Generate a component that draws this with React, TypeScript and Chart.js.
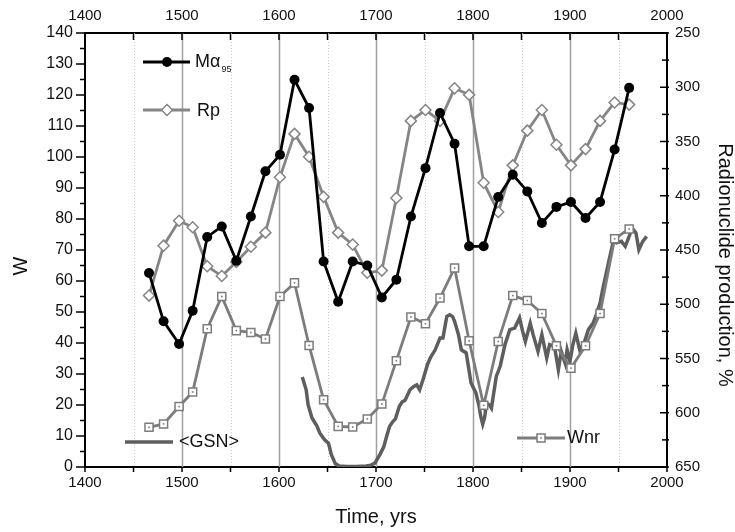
import React, { useEffect, useRef } from 'react';
import { Chart, registerables } from 'chart.js';

Chart.register(...registerables);

// ---- Data ----
const years = [
  1466, 1481, 1497, 1511, 1526, 1541, 1556, 1571, 1586, 1601, 1616, 1631,
  1646, 1661, 1676, 1691, 1706, 1721, 1736, 1751, 1766, 1781, 1796, 1811,
  1826, 1841, 1856, 1871, 1886, 1901, 1916, 1931, 1946, 1961,
];

// M alpha95 (left axis, W)
const malpha95 = [
  62.6, 47.0, 39.7, 50.4, 74.2, 77.6, 66.5, 80.8, 95.4, 100.7, 124.9, 115.8,
  66.3, 53.3, 66.3, 65.0, 54.7, 60.4, 80.8, 96.4, 114.2, 104.3, 71.2, 71.2,
  87.1, 94.3, 88.9, 78.7, 83.9, 85.5, 80.3, 85.5, 102.4, 122.3,
];

// Rp (right axis, radionuclide production, %)
const rp = [
  492, 446, 423, 429, 465, 474, 461, 447, 434, 383, 343, 364,
  401, 434, 445, 471, 469, 402, 331, 321, 331, 301, 307, 388,
  415, 372, 340, 321, 353, 372, 357, 331, 314, 316,
];

// Wnr (left axis, W)
const wnr = [
  12.8, 13.9, 19.5, 24.2, 44.6, 55.0, 44.0, 43.4, 41.3, 55.0, 59.4, 39.2,
  21.7, 13.1, 12.9, 15.5, 20.3, 34.3, 48.4, 46.2, 54.5, 64.2, 40.7, 19.9,
  40.5, 55.3, 53.7, 49.5, 39.1, 31.9, 39.1, 49.5, 73.6, 76.8,
];

// <GSN> (left axis, W)
const gsnYears = [
  1624, 1628, 1630, 1634, 1639, 1642, 1647, 1651, 1654, 1658, 1662, 1670,
  1680, 1690, 1695, 1699, 1704, 1708, 1711, 1714, 1717, 1720, 1724, 1727,
  1730, 1735, 1739, 1742, 1745, 1749, 1753, 1756, 1761, 1766, 1769, 1773,
  1776, 1779, 1781, 1785, 1788, 1793, 1798, 1803, 1806, 1808, 1810, 1812,
  1814, 1817, 1819, 1824, 1828, 1833, 1838, 1843, 1848, 1851, 1854, 1859,
  1862, 1867, 1871, 1876, 1879, 1884, 1888, 1891, 1895, 1897, 1900, 1903,
  1906, 1910, 1914, 1919, 1924, 1927, 1931, 1934, 1940, 1945, 1948, 1953,
  1957, 1961, 1964, 1968, 1971, 1975, 1979,
];
const gsn = [
  29.0, 24.9, 20.1, 15.8, 13.3, 11.0, 8.8, 7.7, 4.0, 1.1, 0.3, 0.2,
  0.2, 0.3, 0.6, 1.3, 4.0, 6.5, 9.9, 13.1, 14.5, 15.5, 19.5, 21.0,
  21.5, 24.9, 26.0, 26.5, 24.9, 28.7, 33.0, 35.2, 37.8, 41.6, 41.6, 48.6,
  49.1, 48.5, 47.0, 42.7, 37.8, 36.8, 27.1, 23.9, 20.0, 16.3, 13.8, 16.0,
  20.6, 20.0, 19.0, 29.2, 32.5, 39.5, 44.3, 44.8, 48.1, 44.0, 40.5, 46.4,
  42.7, 37.3, 42.7, 35.2, 39.5, 38.9, 31.4, 37.3, 33.5, 37.8, 34.1, 39.5,
  43.2, 37.8, 39.5, 44.3, 46.5, 49.1, 52.9, 57.7, 66.3, 73.3, 72.3, 72.8,
  71.2, 74.4, 77.1, 75.5, 70.1, 72.8, 74.4,
];

const xMin = 1400;
const xMax = 2000;
const wMin = 0;
const wMax = 140;
const rMin = 250;
const rMax = 650;

const FONT = '"Liberation Sans", Arial, Helvetica, sans-serif';
const TXT = '#111111';
const C_M = '#000000';
const C_RP = '#858585';
const C_WNR = '#7c7c7c';
const C_GSN = '#5e5e5e';

function drawCircle(ctx: CanvasRenderingContext2D, x: number, y: number, r: number) {
  ctx.beginPath();
  ctx.arc(x, y, r, 0, Math.PI * 2);
  ctx.fillStyle = C_M;
  ctx.fill();
}
function drawDiamond(ctx: CanvasRenderingContext2D, x: number, y: number, r: number) {
  ctx.beginPath();
  ctx.moveTo(x, y - r);
  ctx.lineTo(x + r, y);
  ctx.lineTo(x, y + r);
  ctx.lineTo(x - r, y);
  ctx.closePath();
  ctx.fillStyle = '#fff';
  ctx.fill();
  ctx.lineWidth = 1.5;
  ctx.strokeStyle = C_RP;
  ctx.stroke();
}
function drawSquare(ctx: CanvasRenderingContext2D, x: number, y: number, h: number) {
  ctx.fillStyle = '#fff';
  ctx.fillRect(x - h, y - h, 2 * h, 2 * h);
  ctx.lineWidth = 1.5;
  ctx.strokeStyle = C_WNR;
  ctx.strokeRect(x - h, y - h, 2 * h, 2 * h);
  ctx.fillStyle = C_WNR;
  ctx.fillRect(x - 0.8, y - 0.8, 1.6, 1.6);
}

const decorPlugin = {
  id: 'decor',
  beforeDatasetsDraw(chart: any) {
    const { ctx, chartArea: a, scales } = chart;
    const x = scales.x;
    ctx.save();
    for (let yr = xMin + 50; yr < xMax; yr += 50) {
      const px = Math.round(x.getPixelForValue(yr)) + 0.5;
      const major = yr % 100 === 0;
      ctx.beginPath();
      ctx.lineWidth = major ? 1.5 : 1;
      ctx.strokeStyle = major ? '#a0a0a0' : '#cfcfcf';
      ctx.setLineDash(major ? [] : [1, 2]);
      ctx.moveTo(px, a.top);
      ctx.lineTo(px, a.bottom);
      ctx.stroke();
    }
    ctx.restore();
  },
  afterDatasetsDraw(chart: any) {
    // small centre dots on the Wnr squares
    const { ctx } = chart;
    const meta = chart.getDatasetMeta(2);
    ctx.save();
    ctx.fillStyle = C_WNR;
    meta.data.forEach((pt: any) => {
      ctx.fillRect(pt.x - 0.8, pt.y - 0.8, 1.6, 1.6);
    });
    ctx.restore();
  },
  afterDraw(chart: any) {
    const { ctx, chartArea: a, scales } = chart;
    const x = scales.x;
    const y = scales.y;
    const y1 = scales.y1;
    ctx.save();
    ctx.strokeStyle = '#000';
    ctx.lineWidth = 1.5;
    ctx.setLineDash([]);
    // x ticks (bottom outward, top inward)
    for (let yr = xMin; yr <= xMax; yr += 50) {
      const px = x.getPixelForValue(yr);
      ctx.beginPath();
      ctx.moveTo(px, a.bottom);
      ctx.lineTo(px, a.bottom + 5);
      ctx.moveTo(px, a.top);
      ctx.lineTo(px, a.top + 7);
      ctx.stroke();
    }
    // left ticks (outward)
    for (let v = wMin; v <= wMax; v += 5) {
      const py = y.getPixelForValue(v);
      const len = v % 10 === 0 ? 9 : 5;
      ctx.beginPath();
      ctx.moveTo(a.left - len, py);
      ctx.lineTo(a.left, py);
      ctx.stroke();
    }
    // right ticks (inward)
    for (let v = rMin; v <= rMax; v += 25) {
      const py = y1.getPixelForValue(v);
      const len = v % 50 === 0 ? 7 : 5;
      ctx.beginPath();
      ctx.moveTo(a.right - len, py);
      ctx.lineTo(a.right + 2, py);
      ctx.stroke();
    }

    // ---- legends ----
    ctx.lineCap = 'butt';
    // M alpha 95
    ctx.beginPath();
    ctx.strokeStyle = C_M;
    ctx.lineWidth = 2.8;
    ctx.moveTo(143, 62);
    ctx.lineTo(190, 62);
    ctx.stroke();
    drawCircle(ctx, 167, 62, 5);
    ctx.fillStyle = TXT;
    ctx.textBaseline = 'middle';
    ctx.textAlign = 'left';
    ctx.font = `18px ${FONT}`;
    ctx.fillText('Mα', 195, 62);
    const mw = ctx.measureText('Mα').width;
    ctx.font = `9px ${FONT}`;
    ctx.fillText('95', 195 + mw + 1, 70);
    // Rp
    ctx.beginPath();
    ctx.strokeStyle = C_RP;
    ctx.lineWidth = 2.8;
    ctx.moveTo(143, 110);
    ctx.lineTo(190, 110);
    ctx.stroke();
    drawDiamond(ctx, 167, 110, 5.5);
    ctx.fillStyle = TXT;
    ctx.font = `18px ${FONT}`;
    ctx.fillText('Rp', 197, 111);
    // <GSN>
    ctx.beginPath();
    ctx.strokeStyle = C_GSN;
    ctx.lineWidth = 3.5;
    ctx.moveTo(125, 442);
    ctx.lineTo(173, 442);
    ctx.stroke();
    ctx.fillStyle = TXT;
    ctx.fillText('<GSN>', 179, 442);
    // Wnr
    ctx.beginPath();
    ctx.strokeStyle = C_WNR;
    ctx.lineWidth = 2.8;
    ctx.moveTo(517, 438);
    ctx.lineTo(565, 438);
    ctx.stroke();
    drawSquare(ctx, 541, 438, 4);
    ctx.fillStyle = TXT;
    ctx.font = `18px ${FONT}`;
    ctx.fillText('Wnr', 567, 438);

    // ---- axis titles ----
    ctx.font = `20px ${FONT}`;
    ctx.textAlign = 'center';
    ctx.fillText('Time, yrs', (a.left + a.right) / 2, 517);
    ctx.save();
    ctx.translate(21, 266);
    ctx.rotate(-Math.PI / 2);
    ctx.fillText('W', 0, 0);
    ctx.restore();
    ctx.save();
    ctx.translate(725, 265);
    ctx.rotate(Math.PI / 2);
    ctx.fillText('Radionuclide production, %', 0, 0);
    ctx.restore();
    ctx.restore();
  },
};

const plainLabel = (v: any) => String(v);
const hiddenGrid = (len: number) => ({
  display: true,
  drawOnChartArea: false,
  drawTicks: true,
  tickLength: len,
  color: 'rgba(0,0,0,0)',
});
const border = { display: true, color: '#000', width: 2 };

export default function App() {
  const ref = useRef<HTMLCanvasElement | null>(null);

  useEffect(() => {
    if (!ref.current) return;
    const chart = new Chart(ref.current, {
      type: 'line',
      data: {
        datasets: [
          {
            label: '<GSN>',
            data: gsnYears.map((yr, i) => ({ x: yr, y: gsn[i] })),
            xAxisID: 'x',
            yAxisID: 'y',
            borderColor: C_GSN,
            borderWidth: 3.5,
            pointRadius: 0,
            tension: 0,
            order: 4,
          },
          {
            label: 'Rp',
            data: years.map((yr, i) => ({ x: yr, y: rp[i] })),
            xAxisID: 'x',
            yAxisID: 'y1',
            borderColor: C_RP,
            borderWidth: 2.8,
            pointStyle: 'rectRot',
            pointRadius: 5.5,
            pointBackgroundColor: '#fff',
            pointBorderColor: C_RP,
            pointBorderWidth: 1.5,
            tension: 0,
            order: 2,
          },
          {
            label: 'Wnr',
            data: years.map((yr, i) => ({ x: yr, y: wnr[i] })),
            xAxisID: 'x',
            yAxisID: 'y',
            borderColor: C_WNR,
            borderWidth: 2.8,
            pointStyle: 'rect',
            pointRadius: 5.7,
            pointBackgroundColor: '#fff',
            pointBorderColor: C_WNR,
            pointBorderWidth: 1.5,
            tension: 0,
            order: 3,
          },
          {
            label: 'Mα95',
            data: years.map((yr, i) => ({ x: yr, y: malpha95[i] })),
            xAxisID: 'x',
            yAxisID: 'y',
            borderColor: C_M,
            borderWidth: 2.8,
            pointStyle: 'circle',
            pointRadius: 5,
            pointBackgroundColor: C_M,
            pointBorderColor: C_M,
            pointBorderWidth: 0,
            tension: 0,
            order: 1,
          },
        ],
      },
      options: {
        animation: false,
        responsive: false,
        devicePixelRatio: 1,
        layout: { padding: 0 },
        plugins: {
          legend: { display: false },
          tooltip: { enabled: false },
        },
        scales: {
          x: {
            type: 'linear',
            position: 'bottom',
            min: xMin,
            max: xMax,
            ticks: { stepSize: 100, font: { family: FONT, size: 15 }, color: TXT, padding: 3, maxRotation: 0, callback: plainLabel },
            grid: hiddenGrid(4),
            border,
            afterFit: (s: any) => {
              s.height = 65;
            },
          },
          x2: {
            type: 'linear',
            position: 'top',
            min: xMin,
            max: xMax,
            ticks: { stepSize: 100, font: { family: FONT, size: 15 }, color: TXT, padding: 4, maxRotation: 0, callback: plainLabel },
            grid: hiddenGrid(4),
            border,
            afterFit: (s: any) => {
              s.height = 33;
            },
          },
          y: {
            type: 'linear',
            position: 'left',
            min: wMin,
            max: wMax,
            ticks: { stepSize: 10, font: { family: FONT, size: 16 }, color: TXT, padding: 4, callback: plainLabel },
            grid: hiddenGrid(8),
            border,
            afterFit: (s: any) => {
              s.width = 85;
            },
          },
          y1: {
            type: 'linear',
            position: 'right',
            min: rMin,
            max: rMax,
            reverse: true,
            ticks: { stepSize: 50, font: { family: FONT, size: 15 }, color: TXT, padding: 4, callback: plainLabel },
            grid: hiddenGrid(4),
            border,
            afterFit: (s: any) => {
              s.width = 68;
            },
          },
        },
      },
      plugins: [decorPlugin],
    } as any);
    return () => chart.destroy();
  }, []);

  return (
    <div style={{ position: 'absolute', left: 0, top: 0, width: 735, height: 532, background: '#fff' }}>
      <canvas ref={ref} width={735} height={532} style={{ display: 'block', width: 735, height: 532 }} />
    </div>
  );
}
